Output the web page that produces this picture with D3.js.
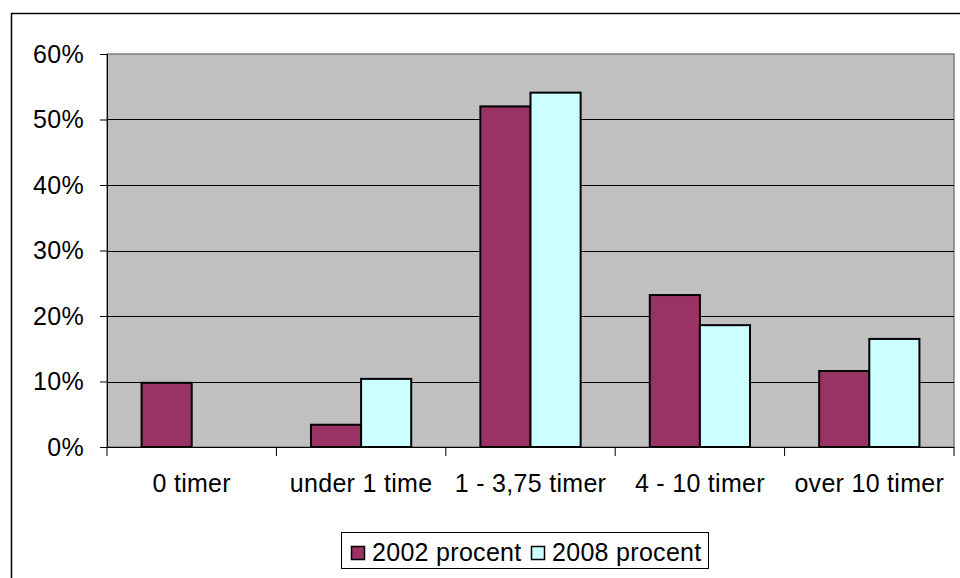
<!DOCTYPE html>
<html>
<head>
<meta charset="utf-8">
<script src="https://cdn.jsdelivr.net/npm/d3@7"></script>
<style>
  html, body { margin: 0; padding: 0; background: #fff; }
  svg { display: block; font-family: "Liberation Sans", Arial, sans-serif; }
</style>
</head>
<body>
<svg id="chart" width="960" height="578"></svg>
<script>
// Category labels along the x axis
const categories = ["0 timer", "under 1 time", "1 - 3,75 timer", "4 - 10 timer", "over 10 timer"];
// Series names and shares (percent)
const seriesNames = ["2002 procent", "2008 procent"];
const values2002 = [9.8, 3.4, 52.0, 23.2, 11.6];
const values2008 = [0, 10.4, 54.1, 18.6, 16.5];
// Y axis ticks (percent)
const yTicks = [0, 10, 20, 30, 40, 50, 60];
const seriesColors = ["#993366", "#CCFFFF"];

const FONT = "'Liberation Sans', Arial, sans-serif";
const FS = 25;
const LS = 0.3;

const svg = d3.select("#chart");
const plot = { left: 107, right: 954, top: 54, bottom: 447 };

// Outer frame of the chart
svg.append("rect")
  .attr("x", 11.5).attr("y", 13.5)
  .attr("width", 960).attr("height", 600)
  .attr("fill", "#fff").attr("stroke", "#000").attr("stroke-width", 1.5);

const x = d3.scaleBand().domain(categories).range([plot.left, plot.right]);
const y = d3.scaleLinear().domain([0, 60]).range([plot.bottom, plot.top]);
const inner = d3.scaleBand().domain(seriesNames)
  .range([0, x.bandwidth()]).paddingOuter(0.69).paddingInner(0);

// Plot background
svg.append("rect")
  .attr("x", plot.left).attr("y", plot.top)
  .attr("width", plot.right - plot.left).attr("height", plot.bottom - plot.top)
  .attr("fill", "#C0C0C0").attr("stroke", "#808080").attr("stroke-width", 1.5);

// Horizontal gridlines
svg.append("g").selectAll("line")
  .data(yTicks.filter(t => t > 0 && t < 60))
  .join("line")
  .attr("x1", plot.left).attr("x2", plot.right)
  .attr("y1", d => Math.round(y(d)) + 0.5).attr("y2", d => Math.round(y(d)) + 0.5)
  .attr("stroke", "#000").attr("stroke-width", 1);

// Bars
const data = categories.map((c, i) => ({ cat: c, vals: [values2002[i], values2008[i]] }));
const groups = svg.append("g").selectAll("g")
  .data(data).join("g")
  .attr("transform", d => `translate(${x(d.cat)},0)`);
groups.selectAll("rect")
  .data(d => d.vals.map((v, j) => ({ v, name: seriesNames[j], color: seriesColors[j] })).filter(e => e.v > 0))
  .join("rect")
  .attr("x", d => inner(d.name))
  .attr("y", d => y(d.v))
  .attr("width", inner.bandwidth())
  .attr("height", d => y(0) - y(d.v))
  .attr("fill", d => d.color)
  .attr("stroke", "#000").attr("stroke-width", 2);

// Y axis
const yAxis = d3.axisLeft(y).tickValues(yTicks).tickFormat(d => d + "%").tickSize(7).tickPadding(16);
const yg = svg.append("g").attr("transform", `translate(${plot.left},0)`).call(yAxis);
yg.attr("font-size", null).attr("font-family", null);
yg.select(".domain").attr("stroke", "#000").attr("stroke-width", 1);
yg.selectAll(".tick line").attr("stroke", "#000");
yg.selectAll("text")
  .style("font-size", FS + "px").style("font-family", FONT).style("letter-spacing", LS + "px")
  .attr("fill", "#000");

// X axis with ticks at category boundaries
const xg = svg.append("g").attr("transform", `translate(0,${plot.bottom})`);
xg.append("line").attr("x1", plot.left).attr("x2", plot.right)
  .attr("y1", 0.5).attr("y2", 0.5).attr("stroke", "#000");
const bounds = categories.map(c => x(c)).concat([plot.right]);
xg.selectAll("line.tk").data(bounds).join("line").attr("class", "tk")
  .attr("x1", d => d).attr("x2", d => d).attr("y1", 0).attr("y2", 9)
  .attr("stroke", "#000");
xg.selectAll("text").data(categories).join("text")
  .attr("x", d => x(d) + x.bandwidth() / 2).attr("y", 45)
  .attr("text-anchor", "middle").attr("fill", "#000")
  .style("font-size", FS + "px").style("font-family", FONT).style("letter-spacing", LS + "px")
  .text(d => d);

// Legend
const legend = svg.append("g");
legend.append("rect")
  .attr("x", 341.5).attr("y", 532.5).attr("width", 367).attr("height", 36)
  .attr("fill", "#fff").attr("stroke", "#000").attr("stroke-width", 1);
const legendItems = [
  { name: seriesNames[0], color: seriesColors[0], x: 351 },
  { name: seriesNames[1], color: seriesColors[1], x: 531 }
];
const li = legend.selectAll("g.item").data(legendItems).join("g").attr("class", "item");
li.append("rect")
  .attr("x", d => d.x + 0.5).attr("y", 546.5).attr("width", 13).attr("height", 13)
  .attr("fill", d => d.color).attr("stroke", "#000").attr("stroke-width", 1.5);
li.append("text")
  .attr("x", d => d.x + 21).attr("y", 561)
  .attr("fill", "#000")
  .style("font-size", FS + "px").style("font-family", FONT).style("letter-spacing", LS + "px")
  .text(d => d.name);
</script>
</body>
</html>
